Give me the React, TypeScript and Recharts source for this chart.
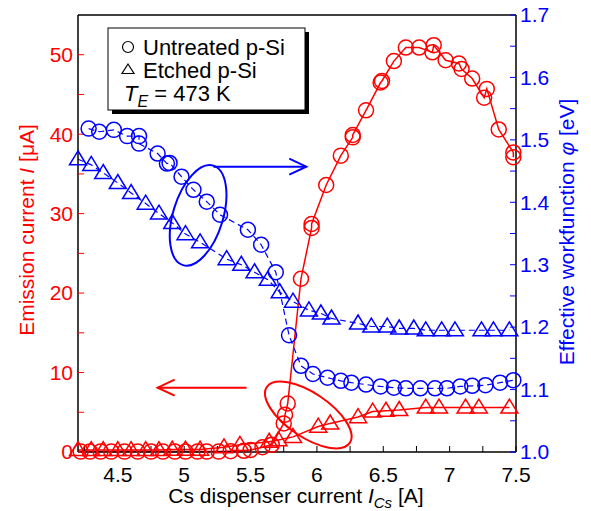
import React from 'react';
import { LineChart, Line, XAxis, YAxis, ReferenceDot, ReferenceLine } from 'recharts';

const RED = '#ff0000';
const BLUE = '#0000ff';
const FONT = '"Liberation Sans", Arial, sans-serif';

// Cs dispenser current (A) and readings for each series
const untreatedIX = [4.22, 4.29, 4.37, 4.45, 4.55, 4.65, 4.75, 4.84, 4.93, 5.01, 5.1, 5.17, 5.26, 5.35, 5.45, 5.5, 5.59, 5.66, 5.75, 5.76, 5.78, 5.88, 5.96, 5.96, 6.07, 6.18, 6.27, 6.27, 6.37, 6.48, 6.49, 6.58, 6.67, 6.77, 6.87, 6.88, 6.97, 7.07, 7.09, 7.17, 7.26, 7.28, 7.37, 7.48, 7.48];
const untreatedI = [0.05, 0.05, 0.05, 0.05, 0.05, 0.05, 0.05, 0.05, 0.05, 0.05, 0.05, 0.05, 0.05, 0.1, 0.15, 0.25, 0.6, 0.9, 3.6, 4.7, 6.1, 21.8, 28.2, 28.7, 33.6, 37.3, 39.6, 39.9, 43.0, 46.5, 46.7, 49.2, 50.9, 50.9, 50.3, 51.2, 49.3, 48.9, 48.2, 47.0, 44.6, 45.7, 40.6, 37.7, 37.1];

const etchedIX = [4.2, 4.3, 4.39, 4.5, 4.6, 4.71, 4.81, 4.91, 5.01, 5.12, 5.3, 5.42, 5.64, 5.71, 5.82, 6.01, 6.1, 6.31, 6.42, 6.52, 6.62, 6.82, 6.92, 7.12, 7.22, 7.45];
const etchedI = [0.25, 0.25, 0.25, 0.25, 0.25, 0.25, 0.25, 0.3, 0.3, 0.3, 0.6, 0.9, 1.3, 1.5, 1.9, 3.2, 3.6, 4.4, 5.1, 5.2, 5.3, 5.6, 5.6, 5.6, 5.6, 5.6];

const untreatedPhiX = [4.28, 4.36, 4.47, 4.57, 4.66, 4.66, 4.8, 4.87, 4.89, 4.98, 5.07, 5.17, 5.27, 5.48, 5.58, 5.69, 5.79, 5.88, 5.97, 6.08, 6.18, 6.26, 6.37, 6.48, 6.58, 6.67, 6.78, 6.89, 6.98, 7.08, 7.17, 7.27, 7.38, 7.48];
const untreatedPhi = [1.518, 1.513, 1.516, 1.506, 1.506, 1.494, 1.478, 1.462, 1.463, 1.441, 1.42, 1.401, 1.38, 1.356, 1.332, 1.288, 1.187, 1.138, 1.125, 1.119, 1.114, 1.111, 1.108, 1.105, 1.103, 1.102, 1.102, 1.102, 1.102, 1.105, 1.106, 1.107, 1.111, 1.115];

const etchedPhiX = [4.2, 4.3, 4.39, 4.5, 4.6, 4.71, 4.81, 4.91, 5.01, 5.12, 5.32, 5.43, 5.53, 5.63, 5.72, 5.82, 5.94, 6.03, 6.11, 6.31, 6.41, 6.53, 6.62, 6.73, 6.82, 6.94, 7.04, 7.24, 7.33, 7.45];
const etchedPhi = [1.469, 1.46, 1.447, 1.431, 1.415, 1.398, 1.382, 1.367, 1.349, 1.336, 1.309, 1.3, 1.288, 1.276, 1.256, 1.241, 1.227, 1.222, 1.214, 1.206, 1.201, 1.201, 1.198, 1.198, 1.195, 1.195, 1.195, 1.195, 1.195, 1.195];

// ticks (every tick gets a line, only the labelled ones get text)
const xTicks = [4.25, 4.5, 4.75, 5, 5.25, 5.5, 5.75, 6, 6.25, 6.5, 6.75, 7, 7.25, 7.5];
const xLabels = [4.5, 5, 5.5, 6, 6.5, 7, 7.5];
const iTicks = [0, 5, 10, 15, 20, 25, 30, 35, 40, 45, 50];
const iLabels = [0, 10, 20, 30, 40, 50];
const phiTicks = [1.0, 1.05, 1.1, 1.15, 1.2, 1.25, 1.3, 1.35, 1.4, 1.45, 1.5, 1.55, 1.6, 1.65, 1.7];
const phiLabels = [1.0, 1.1, 1.2, 1.3, 1.4, 1.5, 1.6, 1.7];

const zip = (xs: number[], ys: number[]) => xs.map((x, i) => ({ x, y: ys[i] }));

const CircleDot = (color: string) => (props: any) => {
  const { cx, cy, index } = props;
  if (cx == null || cy == null) return <g key={index} />;
  return <circle key={index} cx={cx} cy={cy} r={7.5} fill="none" stroke={color} strokeWidth={1.5} />;
};

const TriDot = (color: string) => (props: any) => {
  const { cx, cy, index } = props;
  if (cx == null || cy == null) return <g key={index} />;
  const h = 14;
  const w = 17;
  const pts = `${cx},${cy - h * 0.6} ${cx - w / 2},${cy + h * 0.4} ${cx + w / 2},${cy + h * 0.4}`;
  return <polygon key={index} points={pts} fill="none" stroke={color} strokeWidth={1.5} />;
};

const hasLabel = (labels: number[], v: number) => labels.some((l) => Math.abs(l - v) < 1e-6);

const makeTick = (labels: number[], fill: string, anchor: string, dy: string, fmt: (v: number) => string) => (props: any) => {
  const { x, y, payload } = props;
  if (!hasLabel(labels, payload.value)) return <g />;
  return (
    <text x={x} y={y} dy={dy} textAnchor={anchor} fill={fill} fontSize={21} fontFamily={FONT}>
      {fmt(payload.value)}
    </text>
  );
};

const Ellipse = (rx: number, ry: number, angle: number, color: string) => (props: any) => {
  const { cx, cy } = props;
  return (
    <ellipse cx={cx} cy={cy} rx={rx} ry={ry} fill="none" stroke={color} strokeWidth={2}
      transform={`rotate(${angle} ${cx} ${cy})`} />
  );
};

const Arrow = (color: string) => (props: any) => {
  const { x1, y1, x2, y2 } = props;
  const dir = x2 > x1 ? -1 : 1;
  return (
    <g stroke={color} strokeWidth={2} fill="none">
      <line x1={x1} y1={y1} x2={x2} y2={y2} />
      <polyline points={`${x2 + dir * 17},${y2 - 8} ${x2},${y2} ${x2 + dir * 17},${y2 + 8}`} />
    </g>
  );
};

export default function App() {
  return (
    <div style={{ position: 'absolute', left: 0, top: 0, width: 591, height: 511, background: '#fff' }}>
      <LineChart width={591} height={511} margin={{ top: 0, right: 0, bottom: 0, left: 0 }}>
        <XAxis xAxisId="b" type="number" dataKey="x" domain={[4.2, 7.5]} ticks={xTicks} interval={0}
          height={59} tickSize={-6} tickMargin={21}
          axisLine={{ stroke: '#000', strokeWidth: 1.5 }} tickLine={{ stroke: '#000', strokeWidth: 1 }}
          tick={makeTick(xLabels, '#000', 'middle', '0.71em', (v) => String(v))} />
        <XAxis xAxisId="t" orientation="top" type="number" dataKey="x" domain={[4.2, 7.5]} ticks={xTicks} interval={0}
          height={15} tickSize={-6} axisLine={{ stroke: '#000', strokeWidth: 1.5 }} tickLine={{ stroke: '#000', strokeWidth: 1 }}
          tick={() => <g />} />
        <YAxis yAxisId="I" type="number" domain={[0, 55]} ticks={iTicks} interval={0} width={78}
          tickSize={-6} tickMargin={11} axisLine={{ stroke: '#000', strokeWidth: 1.5 }} tickLine={{ stroke: RED, strokeWidth: 1 }}
          tick={makeTick(iLabels, RED, 'end', '0.35em', (v) => String(v))} />
        <YAxis yAxisId="P" orientation="right" type="number" domain={[1.0, 1.7]} ticks={phiTicks} interval={0} width={75}
          tickSize={-6} tickMargin={10} axisLine={{ stroke: '#000', strokeWidth: 1.5 }} tickLine={{ stroke: BLUE, strokeWidth: 1 }}
          tick={makeTick(phiLabels, BLUE, 'start', '0.35em', (v) => v.toFixed(1))} />

        <ReferenceDot xAxisId="b" yAxisId="P" x={5.105} y={1.379} r={1} shape={Ellipse(25, 52, 17, BLUE)} />
        <ReferenceDot xAxisId="b" yAxisId="I" x={5.935} y={4.66} r={1} shape={Ellipse(50, 22, 34, RED)} />
        <ReferenceLine xAxisId="b" yAxisId="P" segment={[{ x: 5.22, y: 1.457 }, { x: 5.92, y: 1.457 }]} shape={Arrow(BLUE)} />
        <ReferenceLine xAxisId="b" yAxisId="I" segment={[{ x: 5.47, y: 8.1 }, { x: 4.8, y: 8.1 }]} shape={Arrow(RED)} />

        <Line xAxisId="b" yAxisId="P" data={zip(untreatedPhiX, untreatedPhi)} dataKey="y" stroke={BLUE} strokeWidth={1.2}
          strokeDasharray="6 4" dot={CircleDot(BLUE)} isAnimationActive={false} />
        <Line xAxisId="b" yAxisId="P" data={zip(etchedPhiX, etchedPhi)} dataKey="y" stroke={BLUE} strokeWidth={1.2}
          strokeDasharray="6 4" dot={TriDot(BLUE)} isAnimationActive={false} />
        <Line xAxisId="b" yAxisId="I" data={zip(untreatedIX, untreatedI)} dataKey="y" stroke={RED} strokeWidth={1.5}
          dot={CircleDot(RED)} isAnimationActive={false} />
        <Line xAxisId="b" yAxisId="I" data={zip(etchedIX, etchedI)} dataKey="y" stroke={RED} strokeWidth={1.5}
          dot={TriDot(RED)} isAnimationActive={false} />
      </LineChart>

      <svg width={591} height={511} style={{ position: 'absolute', left: 0, top: 0, pointerEvents: 'none' }}
        fontFamily={FONT}>
        {/* legend box with drop shadow */}
        <rect x={112} y={32} width={197} height={82} fill="#000" />
        <rect x={108} y={28} width={197} height={82} fill="#fff" stroke="#000" strokeWidth={1} />
        <circle cx={128} cy={47} r={5.5} fill="none" stroke="#000" strokeWidth={1.2} />
        <text x={143} y={55} fontSize={22} fill="#000">Untreated p-Si</text>
        <polygon points="128,64 122,73.5 134,73.5" fill="none" stroke="#000" strokeWidth={1.2} />
        <text x={143} y={78} fontSize={22} fill="#000">Etched p-Si</text>
        <text x={124} y={101} fontSize={22} fill="#000">
          <tspan fontStyle="italic">T</tspan>
          <tspan fontStyle="italic" fontSize={16} dy={6}>E</tspan>
          <tspan dy={-6}> = 473 K</tspan>
        </text>

        {/* axis titles */}
        <text transform="translate(34,230) rotate(-90)" textAnchor="middle" fontSize={21} fill={RED}>
          Emission current <tspan fontStyle="italic">I</tspan> [μA]
        </text>
        <text transform="translate(574,232) rotate(-90)" textAnchor="middle" fontSize={21} fill={BLUE}>
          Effective workfunction <tspan fontStyle="italic">φ</tspan> [eV]
        </text>
        <text x={296} y={503} textAnchor="middle" fontSize={21} fill="#000">
          Cs dispenser current <tspan fontStyle="italic">I</tspan>
          <tspan fontStyle="italic" fontSize={15} dy={5}>Cs</tspan>
          <tspan dy={-5}> [A]</tspan>
        </text>
      </svg>
    </div>
  );
}
